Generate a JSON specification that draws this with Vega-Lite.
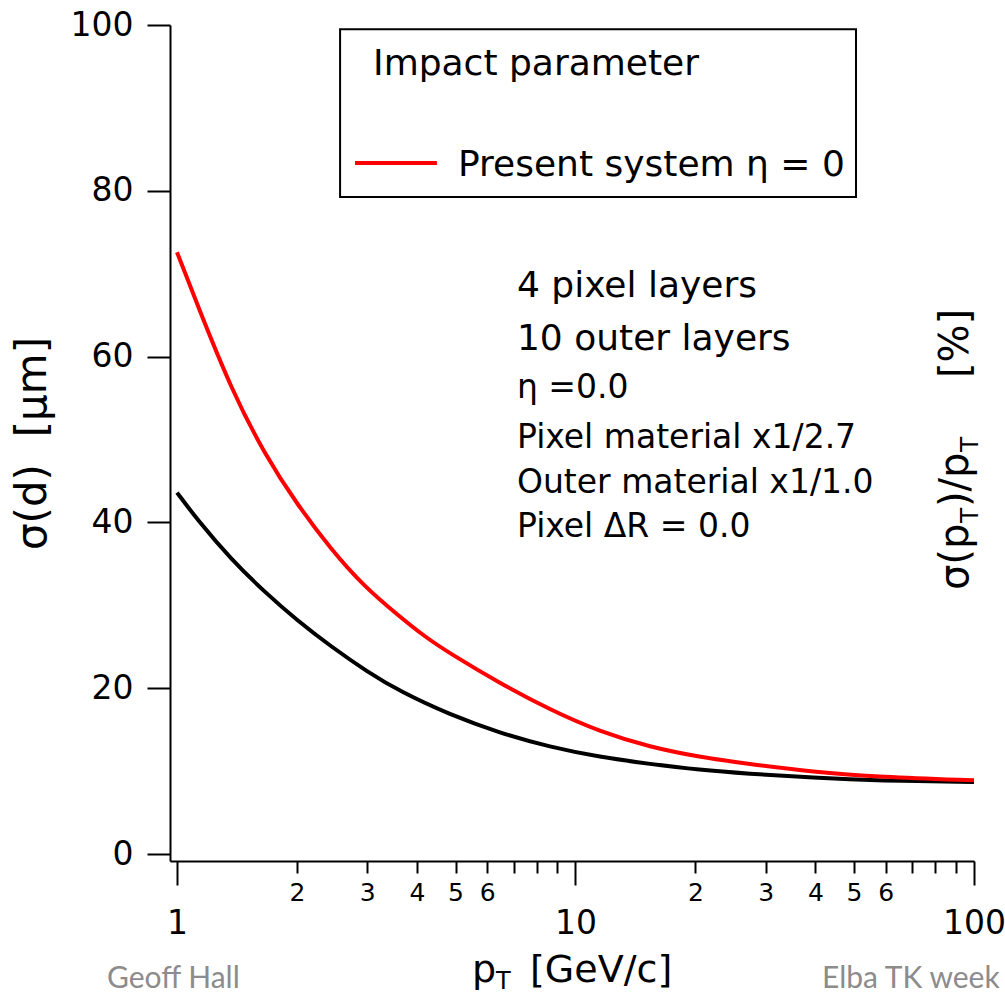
{
"$schema":"https://vega.github.io/schema/vega-lite/v6.json",
"autosize":{"type":"none"},
"padding":{"left":170,"top":25,"right":31,"bottom":135},
"width":804,"height":836,
"background":"white",
"config":{"view":{"stroke":null},"text":{"font":"DejaVu Sans","color":"black"}},
"encoding":{
 "x":{"field":"x","type":"quantitative","scale":{"type":"log","domain":[0.9604,100],"nice":false},
  "axis":{"title":null,"grid":false,"values":[1,2,3,4,5,6,7,8,9,10,20,30,40,50,60,70,80,90,100],
   "domainColor":"black","domainWidth":2,"tickColor":"black","tickWidth":2,
   "tickSize":{"condition":{"test":"datum.value==1||datum.value==10||datum.value==100","value":24},"value":12},
   "labelPadding":{"condition":{"test":"datum.value==1||datum.value==10||datum.value==100","value":48},"value":27},
   "labelFontSize":{"condition":{"test":"datum.value==1||datum.value==10||datum.value==100","value":33},"value":25},
   "labelBaseline":"alphabetic","labelFont":"DejaVu Sans","labelColor":"black","labelOverlap":false,"labelFlush":false,"labelBound":false,
   "labelExpr":"datum.value==1?'1':datum.value==10?'10':datum.value==100?'100':(datum.value<=6?''+datum.value:(datum.value>=20&&datum.value<=60?''+(datum.value/10):''))"}},
 "y":{"field":"y","type":"quantitative","scale":{"domain":[-0.84,100],"nice":false,"zero":false},
  "axis":{"title":"σ(d)\u00a0\u00a0[μm]","titleFont":"DejaVu Sans","titleFontSize":42,"titleFontWeight":"normal","titleColor":"black","titlePadding":16,
   "grid":false,"values":[0,20,40,60,80,100],"domainColor":"black","domainWidth":2,"tickColor":"black","tickWidth":2,"tickSize":23,
   "labelPadding":14,"labelFontSize":33,"labelFont":"DejaVu Sans","labelColor":"black","labelOverlap":false,"labelFlush":false,"labelBound":false}}
},
"layer":[
 {"data":{"values":[{"x":2.566,"x2":50.57,"y":99.5,"y2":79.25}]},
  "mark":{"type":"rect","fill":"white","stroke":"black","strokeWidth":2},
  "encoding":{"x2":{"field":"x2"},"y2":{"field":"y2"}}},
 {"data":{"values":[
   {"s":"new","x":1,"y":43.6},{"s":"new","x":1.13,"y":40.2},{"s":"new","x":1.37,"y":35.5},{"s":"new","x":1.66,"y":31.6},
   {"s":"new","x":2.0,"y":28.2},{"s":"new","x":2.44,"y":25.0},{"s":"new","x":3.0,"y":22.0},{"s":"new","x":3.63,"y":19.6},
   {"s":"new","x":4.84,"y":16.8},{"s":"new","x":6.46,"y":14.6},{"s":"new","x":8.63,"y":12.9},{"s":"new","x":11.5,"y":11.7},
   {"s":"new","x":15.4,"y":10.85},{"s":"new","x":20.5,"y":10.15},{"s":"new","x":26.9,"y":9.7},{"s":"new","x":39.5,"y":9.2},
   {"s":"new","x":58.1,"y":8.85},{"s":"new","x":100,"y":8.7},
   {"s":"present","x":1,"y":72.6},{"s":"present","x":1.13,"y":66.0},{"s":"present","x":1.37,"y":56.0},{"s":"present","x":1.66,"y":48.2},
   {"s":"present","x":2.0,"y":42.2},{"s":"present","x":2.44,"y":36.7},{"s":"present","x":2.96,"y":32.2},{"s":"present","x":3.59,"y":28.8},
   {"s":"present","x":4.19,"y":26.2},{"s":"present","x":4.84,"y":24.2},{"s":"present","x":6.46,"y":20.6},{"s":"present","x":8.63,"y":17.4},
   {"s":"present","x":11.5,"y":14.75},{"s":"present","x":15.4,"y":12.9},{"s":"present","x":20.5,"y":11.7},{"s":"present","x":26.9,"y":10.9},
   {"s":"present","x":39.5,"y":9.9},{"s":"present","x":58.1,"y":9.3},{"s":"present","x":100,"y":8.9}]},
  "mark":{"type":"line","strokeWidth":4,"interpolate":"basis"},
  "encoding":{"color":{"field":"s","type":"nominal","scale":{"domain":["new","present"],"range":["#000000","#ff0000"]},"legend":null}}},
 {"data":{"values":[{"x":2.797,"x2":4.49,"y":83.35}]},
  "mark":{"type":"rule","color":"#ff0000","strokeWidth":4},
  "encoding":{"x2":{"field":"x2"}}},
 {"data":{"values":[{"x":3.104,"y":93.97,"t":"Impact parameter"},{"x":5.07,"y":81.8,"t":"Present system η = 0"},
   {"x":7.13,"y":67.19,"t":"4 pixel layers"},{"x":7.13,"y":60.8,"t":"10 outer layers"}]},
  "mark":{"type":"text","font":"DejaVu Sans","fontSize":36,"align":"left","baseline":"alphabetic","color":"black"},
  "encoding":{"text":{"field":"t"}}},
 {"data":{"values":[{"x":7.13,"y":55.0,"t":"η =0.0"},{"x":7.13,"y":48.97,"t":"Pixel material x1/2.7"},
   {"x":7.13,"y":43.55,"t":"Outer material x1/1.0"},{"x":7.13,"y":38.24,"t":"Pixel ΔR = 0.0"}]},
  "mark":{"type":"text","font":"DejaVu Sans","fontSize":33,"align":"left","baseline":"alphabetic","color":"black"},
  "encoding":{"text":{"field":"t"}}},
 {"data":{"values":[{"x":5.50,"y":-15.45,"t":"p"},{"x":7.69,"y":-15.45,"t":"[GeV/c]"}]},
  "mark":{"type":"text","font":"DejaVu Sans","fontSize":38,"align":"left","baseline":"alphabetic","color":"black"},
  "encoding":{"text":{"field":"t"}}},
 {"data":{"values":[{"x":6.32,"y":-15.45,"t":"T"}]},
  "mark":{"type":"text","font":"DejaVu Sans","fontSize":24,"align":"left","baseline":"alphabetic","dy":7,"color":"black"},
  "encoding":{"text":{"field":"t"}}},
 {"data":{"values":[{"x":96.6,"y":31.85,"t":"σ(p"},{"x":96.6,"y":41.86,"t":")/p"},{"x":96.6,"y":57.42,"t":"[%]"}]},
  "mark":{"type":"text","font":"DejaVu Sans","fontSize":40,"angle":270,"align":"left","baseline":"alphabetic","color":"black"},
  "encoding":{"text":{"field":"t"}}},
 {"data":{"values":[{"x":96.6,"y":39.93,"t":"T"},{"x":96.6,"y":48.49,"t":"T"}]},
  "mark":{"type":"text","font":"DejaVu Sans","fontSize":25,"angle":270,"align":"left","baseline":"alphabetic","dy":10,"color":"black"},
  "encoding":{"text":{"field":"t"}}},
 {"data":{"values":[{"x":0.667,"y":-16.2,"t":"Geoff Hall"}]},
  "mark":{"type":"text","font":"Lato","fontSize":30,"align":"left","baseline":"alphabetic","color":"#8c8c8c"},
  "encoding":{"text":{"field":"t"}}},
 {"data":{"values":[{"x":116,"y":-16.2,"t":"Elba TK week"}]},
  "mark":{"type":"text","font":"Lato","fontSize":30,"align":"right","baseline":"alphabetic","color":"#8c8c8c"},
  "encoding":{"text":{"field":"t"}}}
]
}
